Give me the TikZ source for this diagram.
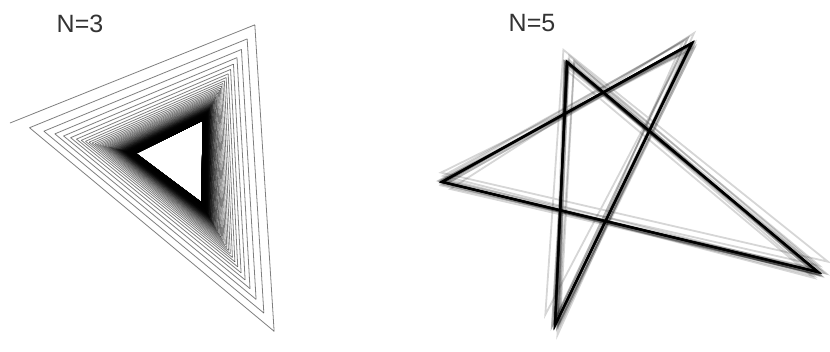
\documentclass[tikz,border=0pt]{standalone}
\usepackage{fontspec}
\setmainfont{Liberation Sans}
\usetikzlibrary{calc}

\begin{document}
\begin{tikzpicture}[x=1pt, y=-1pt,
  spiral/.style={draw=black, opacity=0.5, line width=0.8pt},
  ghost/.style={draw=black, opacity=0.16, line width=1.8pt, line join=miter},
  starline/.style={draw=black, line width=2.2pt, line join=miter},
  title/.style={font=\fontsize{25}{30}\selectfont, text=black!80}
]
  \useasboundingbox (0,0) rectangle (830,351);

  % N=3: spiral of shrinking triangles
  \coordinate (O0) at (10,123);
  \coordinate (O1) at (258,19);
  \coordinate (O2) at (283,347);
  \coordinate (I0) at (138,154);
  \coordinate (I1) at (202,122);
  \coordinate (I2) at (200,200);

  \foreach \j in {0,...,899}{
    \pgfmathsetmacro{\fa}{1/(1+0.18*\j/3)}
    \pgfmathsetmacro{\fb}{1/(1+0.18*(\j+1)/3)}
    \pgfmathtruncatemacro{\va}{mod(\j,3)}
    \pgfmathtruncatemacro{\vb}{mod(\j+1,3)}
    \draw[spiral] ($(I\va)!\fa!(O\va)$) -- ($(I\vb)!\fb!(O\vb)$);
  }

  % N=5: pentagram with jittered copies
  \coordinate (S0) at (567,62);
  \coordinate (S1) at (555,325);
  \coordinate (S2) at (692,43);
  \coordinate (S3) at (442,182);
  \coordinate (S4) at (818,272);

  \pgfmathsetseed{17}
  \foreach \k in {1,...,40}{
    \pgfmathsetmacro{\amp}{14*exp(-\k/8)}
    \foreach \v in {0,...,4}{
      \coordinate (J\v) at ($(S\v)+({\amp*rand},{\amp*rand})$);
    }
    \draw[ghost] (J0) -- (J1) -- (J2) -- (J3) -- (J4) -- cycle;
  }
  \draw[starline] (S0) -- (S1) -- (S2) -- (S3) -- (S4) -- cycle;

  \node[title] (labThree) at (80,24) {N=3};
  \node[title] (labFive) at (532,23) {N=5};
\end{tikzpicture}
\end{document}
